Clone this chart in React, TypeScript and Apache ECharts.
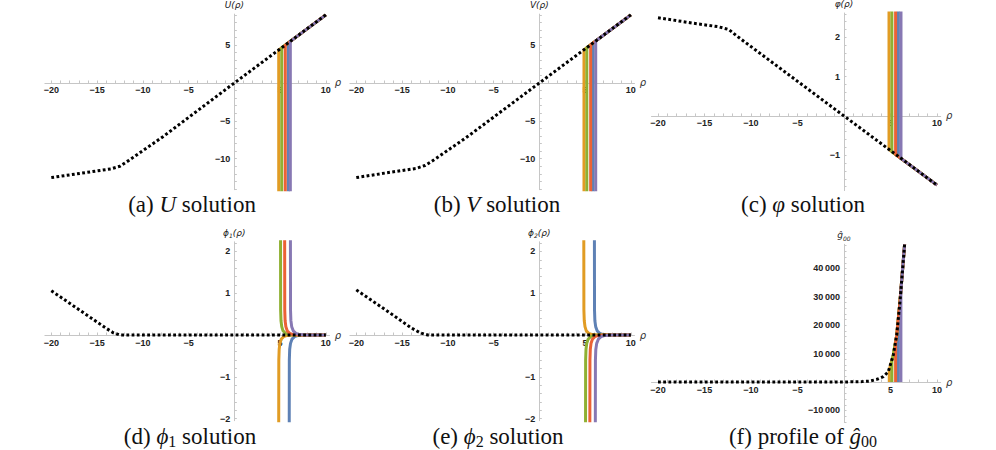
import React, { useEffect, useRef } from 'react';
import * as echarts from 'echarts';

// ---------- colours (Mathematica default palette) ----------
const C_BLUE = '#5E81B5';
const C_ORANGE = '#E19C24';
const C_GREEN = '#8FB032';
const C_RED = '#EB6235';
const C_PURPLE = '#8778B3';

// ---------- tick values ----------
const X_LABELS = [-20, -15, -10, -5, 5, 10];
const X_TICKS = [-20, -19, -18, -17, -16, -15, -14, -13, -12, -11, -10, -9, -8, -7, -6, -5, -4, -3, -2, -1, 1, 2, 3, 4, 5, 6, 7, 8, 9, 10];
const U_LABELS = [-10, -5, 5];
const U_TICKS = [-14, -13, -12, -11, -10, -9, -8, -7, -6, -5, -4, -3, -2, -1, 1, 2, 3, 4, 5, 6, 7, 8, 9];
const PHI_LABELS = [-1, 1, 2];
const PHI_TICKS = [-1.8, -1.6, -1.4, -1.2, -1, -0.8, -0.6, -0.4, -0.2, 0.2, 0.4, 0.6, 0.8, 1, 1.2, 1.4, 1.6, 1.8, 2, 2.2, 2.4, 2.6];
const PHIN_LABELS = [-2, -1, 1, 2];
const PHIN_TICKS = [-2, -1.8, -1.6, -1.4, -1.2, -1, -0.8, -0.6, -0.4, -0.2, 0.2, 0.4, 0.6, 0.8, 1, 1.2, 1.4, 1.6, 1.8, 2, 2.2];
const G_LABELS = [-10000, 10000, 20000, 30000, 40000];
const G_TICKS = [-14000, -12000, -10000, -8000, -6000, -4000, -2000, 2000, 4000, 6000, 8000, 10000, 12000, 14000, 16000, 18000, 20000, 22000, 24000, 26000, 28000, 30000, 32000, 34000, 36000, 38000, 40000, 42000, 44000, 46000, 48000];

// ---------- (a) U ----------
const U_EXACT = [[-20, -12.5], [-16.3, -11.85], [-13.5, -11.35], [-12.5, -11.0], [-11.5, -10.2], [-7.8, -7.1], [0, 0], [5, 4.5], [10, 9.0]];
const U_BLUE = [[5.9, -15], [5.9, 5.3], [10, 9.0]];
const U_ORANGE = [[4.85, -15], [4.85, 4.37], [5, 4.5], [10, 9.0]];
const U_GREEN = [[5.18, -15], [5.18, 4.66], [10, 9.0]];
const U_RED = [[5.57, -15], [5.57, 5.0], [10, 9.0]];
const U_PURPLE = [[6.12, -15], [6.12, 5.5], [10, 9.0]];

// ---------- (b) V ----------
const V_EXACT = [[-20, -12.5], [-16.3, -11.8], [-13.5, -11.3], [-12.5, -10.9], [-11.5, -10.15], [-7.8, -7.05], [0, 0], [5, 4.5], [10, 9.0]];
const V_BLUE = [[5.87, -15], [5.87, 5.28], [10, 9.0]];
const V_ORANGE = [[4.88, -15], [4.88, 4.4], [5, 4.5], [10, 9.0]];
const V_GREEN = [[5.19, -15], [5.19, 4.67], [10, 9.0]];
const V_RED = [[5.61, -15], [5.61, 5.05], [10, 9.0]];
const V_PURPLE = [[6.16, -15], [6.16, 5.54], [10, 9.0]];

// ---------- (c) varphi ----------
const P_EXACT = [[-20, 2.5], [-16.2, 2.36], [-13.5, 2.27], [-12.4, 2.2], [-11.5, 2.03], [0, 0], [5, -0.88], [10, -1.76]];
const P_BLUE = [[5.85, 2.8], [5.85, -1.03], [10, -1.76]];
const P_ORANGE = [[4.84, 2.8], [4.84, -0.85], [5, -0.88], [10, -1.76]];
const P_GREEN = [[5.15, 2.8], [5.15, -0.91], [10, -1.76]];
const P_RED = [[5.55, 2.8], [5.55, -0.98], [10, -1.76]];
const P_PURPLE = [[6.13, 2.8], [6.13, -1.08], [10, -1.76]];

// ---------- (d) phi1 ----------
const F1_EXACT = [[-20, 1.06], [-16, 0.46], [-14, 0.16], [-13.2, 0.05], [-12.5, 0], [10, 0]];
const F1_BLUE = [[6.0, -2.3], [6.01, -0.6], [6.05, -0.34], [6.14, -0.2], [6.3, -0.1], [6.58, -0.04], [7.0, -0.01], [7.7, 0], [10, 0]];
const F1_ORANGE = [[4.85, -2.3], [4.86, -0.6], [4.9, -0.34], [4.98, -0.2], [5.12, -0.1], [5.38, -0.04], [5.8, -0.01], [6.5, 0], [10, 0]];
const F1_GREEN = [[5.05, 2.3], [5.06, 0.6], [5.1, 0.34], [5.18, 0.2], [5.32, 0.1], [5.58, 0.04], [6.0, 0.01], [6.7, 0], [10, 0]];
const F1_RED = [[5.5, 2.3], [5.51, 0.6], [5.55, 0.34], [5.63, 0.2], [5.78, 0.1], [6.05, 0.04], [6.45, 0.01], [7.1, 0], [10, 0]];
const F1_PURPLE = [[6.13, 2.3], [6.14, 0.6], [6.18, 0.35], [6.27, 0.2], [6.44, 0.1], [6.73, 0.04], [7.15, 0.01], [7.9, 0], [10, 0]];

// ---------- (e) phi2 ----------
const F2_EXACT = [[-20, 1.08], [-16, 0.48], [-14, 0.17], [-13, 0.05], [-12.2, 0], [10, 0]];
const F2_BLUE = [[6.02, 2.3], [6.03, 0.6], [6.07, 0.34], [6.16, 0.2], [6.32, 0.1], [6.6, 0.04], [7.0, 0.01], [7.7, 0], [10, 0]];
const F2_ORANGE = [[4.86, 2.3], [4.87, 0.6], [4.91, 0.34], [4.99, 0.2], [5.13, 0.1], [5.4, 0.04], [5.8, 0.01], [6.5, 0], [10, 0]];
const F2_GREEN = [[5.05, -2.3], [5.06, -0.6], [5.1, -0.34], [5.18, -0.2], [5.33, -0.1], [5.6, -0.04], [6.0, -0.01], [6.7, 0], [10, 0]];
const F2_RED = [[5.52, -2.3], [5.53, -0.6], [5.57, -0.34], [5.65, -0.2], [5.8, -0.1], [6.07, -0.04], [6.47, -0.01], [7.1, 0], [10, 0]];
const F2_PURPLE = [[6.12, -2.3], [6.13, -0.6], [6.17, -0.35], [6.27, -0.2], [6.45, -0.1], [6.75, -0.04], [7.2, -0.01], [8.0, 0], [10, 0]];

// ---------- (f) g00 ----------
const G_EXACT = [[-20, 0], [-10, 0], [0, 20], [2, 150], [2.8, 350], [3.5, 900], [4.23, 1900], [4.76, 3600], [5.3, 9500], [5.67, 16500], [6.02, 28300], [6.31, 40000], [6.52, 48500]];
const G_BLUE = [[5.85, 0], [5.85, 22000], [6.02, 28300], [6.31, 40000], [6.52, 48500]];
const G_ORANGE = [[4.87, 0], [4.87, 4300], [5.3, 9500], [5.67, 16500], [6.02, 28300], [6.31, 40000], [6.52, 48500]];
const G_GREEN = [[5.15, 0], [5.15, 7400], [5.3, 9500], [5.67, 16500], [6.02, 28300], [6.31, 40000], [6.52, 48500]];
const G_RED = [[5.55, 0], [5.55, 14000], [5.67, 16500], [6.02, 28300], [6.31, 40000], [6.52, 48500]];
const G_PURPLE = [[6.12, 0], [6.12, 32000], [6.31, 40000], [6.52, 48500]];

const fmtNum = (v: number) => (v < 0 ? '\u2212' : '') + String(Math.abs(v));
const fmtBig = (v: number) => {
  const a = Math.abs(v);
  const s = a >= 10000 ? Math.floor(a / 1000) + '\u2009' + String(a % 1000).padStart(3, '0') : String(a);
  return (v < 0 ? '\u2212' : '') + s;
};

const AXIS_COLOR = '#c6c6c6';
const LABEL_STYLE = { fontSize: 9, fontWeight: 'bold', color: '#222', fontFamily: 'Liberation Sans' };

type Panel = {
  rect: { left: number; top: number; width: number; height: number };
  x: [number, number];
  y: [number, number];
  yLabels: number[];
  yTicks: number[];
  yName: string;
  yFmt: (v: number) => string;
};

function mkX(gi: number, p: Panel) {
  const [y0, y1] = p.y;
  const offset = -((0 - y0) / (y1 - y0)) * p.rect.height;
  return {
    type: 'value', gridIndex: gi, min: p.x[0], max: p.x[1], position: 'bottom', offset,
    axisLine: { show: true, onZero: false, lineStyle: { color: AXIS_COLOR, width: 1 } },
    axisTick: { show: true, inside: true, length: 2.5, customValues: X_TICKS, lineStyle: { color: AXIS_COLOR } },
    axisLabel: { ...LABEL_STYLE, customValues: X_LABELS, formatter: fmtNum, margin: 3 },
    splitLine: { show: false },
    name: 'ρ', nameLocation: 'end', nameGap: 5,
    nameTextStyle: { fontSize: 10, fontStyle: 'italic', color: '#333', fontFamily: 'DejaVu Sans', padding: [5, 0, 0, 0] },
  };
}

function mkY(gi: number, p: Panel) {
  const [x0, x1] = p.x;
  const offset = -((0 - x0) / (x1 - x0)) * p.rect.width;
  return {
    type: 'value', gridIndex: gi, min: p.y[0], max: p.y[1], position: 'left', offset,
    axisLine: { show: true, onZero: false, lineStyle: { color: AXIS_COLOR, width: 1 } },
    axisTick: { show: true, inside: true, length: 2.5, customValues: p.yTicks, lineStyle: { color: AXIS_COLOR } },
    axisLabel: { ...LABEL_STYLE, customValues: p.yLabels, formatter: p.yFmt, margin: 4 },
    splitLine: { show: false },
    name: p.yName, nameLocation: 'end', nameGap: 3,
    nameTextStyle: {
      fontSize: 9, color: '#222', fontFamily: 'DejaVu Sans', fontStyle: 'italic',
      rich: {
        a: { fontSize: 9, color: '#222', fontFamily: 'DejaVu Sans', fontStyle: 'italic', lineHeight: 12 },
        s: { fontSize: 6, color: '#222', fontFamily: 'DejaVu Sans', lineHeight: 8, verticalAlign: 'bottom' },
      },
    },
  };
}

function colored(gi: number, data: number[][], color: string) {
  return {
    type: 'line', xAxisIndex: gi, yAxisIndex: gi, data, symbol: 'none', showSymbol: false, silent: true,
    clip: true, lineStyle: { color, width: 3, cap: 'butt', join: 'round' }, z: 2,
  };
}

function exact(gi: number, data: number[][]) {
  return {
    type: 'line', xAxisIndex: gi, yAxisIndex: gi, data, symbol: 'none', showSymbol: false, silent: true,
    clip: true, lineStyle: { color: '#000', width: 3, type: [2.8, 2.4], cap: 'butt' }, z: 3,
  };
}

function panelSeries(gi: number, ex: number[][], b: number[][], o: number[][], g: number[][], r: number[][], p: number[][]) {
  return [
    colored(gi, b, C_BLUE),
    colored(gi, o, C_ORANGE),
    colored(gi, g, C_GREEN),
    colored(gi, r, C_RED),
    colored(gi, p, C_PURPLE),
    exact(gi, ex),
  ];
}

const CAP_FONT = 'Liberation Serif';
function caption(x: number, y: number, text: string) {
  return {
    type: 'text', x, y, silent: true,
    style: {
      text, fill: '#111', fontSize: 23, fontFamily: CAP_FONT, align: 'center', verticalAlign: 'middle',
      rich: {
        n: { fontSize: 23, fontFamily: CAP_FONT, fill: '#111', lineHeight: 26 },
        i: { fontSize: 23, fontFamily: CAP_FONT, fontStyle: 'italic', fill: '#111', lineHeight: 26 },
        s: { fontSize: 16, fontFamily: CAP_FONT, fill: '#111', lineHeight: 16, verticalAlign: 'bottom' },
      },
    },
  };
}

function buildOption() {
  const panels: Panel[] = [
    { rect: { left: 44.9, top: 14.1, width: 284.6, height: 175.6 }, x: [-20.7, 10.4], y: [-14.1, 9.1], yLabels: U_LABELS, yTicks: U_TICKS, yName: '{a|U(ρ)}', yFmt: fmtNum },
    { rect: { left: 349.9, top: 14.1, width: 284.6, height: 175.6 }, x: [-20.7, 10.4], y: [-14.1, 9.1], yLabels: U_LABELS, yTicks: U_TICKS, yName: '{a|V(ρ)}', yFmt: fmtNum },
    { rect: { left: 651.5, top: 13.0, width: 289.2, height: 177.6 }, x: [-20.7, 10.4], y: [-1.9, 2.62], yLabels: PHI_LABELS, yTicks: PHI_TICKS, yName: '{a|φ(ρ)}', yFmt: fmtNum },
    { rect: { left: 44.9, top: 241.8, width: 284.6, height: 178.9 }, x: [-20.7, 10.4], y: [-2.05, 2.23], yLabels: PHIN_LABELS, yTicks: PHIN_TICKS, yName: '{a|ϕ}{s|1}{a|(ρ)}', yFmt: fmtNum },
    { rect: { left: 349.9, top: 241.8, width: 284.6, height: 178.9 }, x: [-20.7, 10.4], y: [-2.05, 2.23], yLabels: PHIN_LABELS, yTicks: PHIN_TICKS, yName: '{a|ϕ}{s|2}{a|(ρ)}', yFmt: fmtNum },
    { rect: { left: 651.5, top: 244.3, width: 289.2, height: 177.5 }, x: [-20.7, 10.4], y: [-14000, 48500], yLabels: G_LABELS, yTicks: G_TICKS, yName: '{a|ĝ}{s|00}', yFmt: fmtBig },
  ];

  const grid = panels.map((p) => ({ ...p.rect, containLabel: false, outerBoundsMode: 'none', show: false }));
  const xAxis = panels.map((p, i) => mkX(i, p));
  const yAxis = panels.map((p, i) => mkY(i, p));

  const series = [
    ...panelSeries(0, U_EXACT, U_BLUE, U_ORANGE, U_GREEN, U_RED, U_PURPLE),
    ...panelSeries(1, V_EXACT, V_BLUE, V_ORANGE, V_GREEN, V_RED, V_PURPLE),
    ...panelSeries(2, P_EXACT, P_BLUE, P_ORANGE, P_GREEN, P_RED, P_PURPLE),
    ...panelSeries(3, F1_EXACT, F1_BLUE, F1_ORANGE, F1_GREEN, F1_RED, F1_PURPLE),
    ...panelSeries(4, F2_EXACT, F2_BLUE, F2_ORANGE, F2_GREEN, F2_RED, F2_PURPLE),
    ...panelSeries(5, G_EXACT, G_BLUE, G_ORANGE, G_GREEN, G_RED, G_PURPLE),
  ];

  const graphic = [
    caption(192, 204, '{n|(a) }{i|U}{n| solution}'),
    caption(497, 204, '{n|(b) }{i|V}{n| solution}'),
    caption(803, 204, '{n|(c) }{i|φ}{n| solution}'),
    caption(190, 436, '{n|(d) }{i|ϕ}{s|1}{n| solution}'),
    caption(498, 436, '{n|(e) }{i|ϕ}{s|2}{n| solution}'),
    caption(803, 436, '{n|(f) profile of }{i|ĝ}{s|00}'),
  ];

  return {
    animation: false,
    backgroundColor: '#ffffff',
    grid,
    xAxis,
    yAxis,
    series,
    graphic,
  };
}

export default function App() {
  const ref = useRef<HTMLDivElement>(null);
  useEffect(() => {
    if (!ref.current) return;
    const chart = echarts.init(ref.current, null, { renderer: 'svg' });
    chart.setOption(buildOption() as any);
    return () => chart.dispose();
  }, []);
  return (
    <div
      ref={ref}
      style={{ position: 'fixed', left: 0, top: 0, width: 996, height: 450, background: '#fff' }}
    />
  );
}
